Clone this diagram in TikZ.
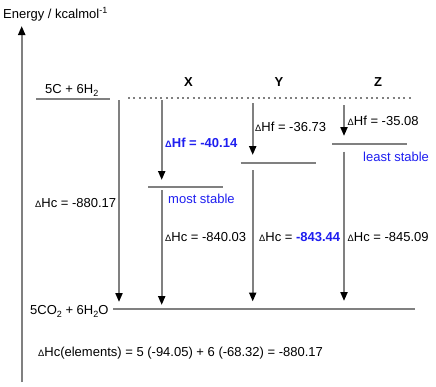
\documentclass[tikz,border=0pt]{standalone}
\usepackage{fontspec}
\setmainfont{Liberation Sans}
\usetikzlibrary{arrows.meta}
\definecolor{lg}{RGB}{128,128,128}
\definecolor{hb}{RGB}{30,30,240}
\newcommand\dlt{{\fontsize{9.3}{9.3}\selectfont Δ}}
\newcommand\sbs[1]{\raisebox{-3pt}{\fontsize{9}{9}\selectfont #1}}
\newcommand\sps[1]{\raisebox{4.5pt}{\fontsize{9}{9}\selectfont #1}}
\begin{document}
\begin{tikzpicture}[x=1pt,y=-1pt,
  txt/.style={anchor=base west,inner sep=0pt,font=\fontsize{13}{15}\selectfont},
  lbl/.style={anchor=base,inner sep=0pt,font=\fontsize{13}{15}\selectfont\bfseries},
  lvl/.style={draw=lg,line width=2pt},
  arr/.style={draw=lg,line width=2pt,-{Triangle[width=7pt,length=9pt,fill=black,color=black]}},
  dots/.style={draw=lg,line width=1.5pt,dash pattern=on 2pt off 3.4pt}]
\useasboundingbox (0,0) rectangle (436,386);
% axis
\coordinate (ax0) at (21.7,382);
\coordinate (ax1) at (21.7,26);
\draw[arr] (ax0) -- (ax1);
\node[txt] (elab) at (3,18) {Energy / kcalmol\sps{-1}};
% levels
\coordinate (e1) at (36,99);    \coordinate (e2) at (110,99);
\coordinate (d1) at (128,98);   \coordinate (d2) at (414,98);
\coordinate (x1) at (148,186.5); \coordinate (x2) at (223,186.5);
\coordinate (y1) at (240.5,162.5); \coordinate (y2) at (316,162.5);
\coordinate (z1) at (332,143.5); \coordinate (z2) at (407,143.5);
\coordinate (b1) at (113,308.5); \coordinate (b2) at (415,308.5);
\draw[lvl] (e1) -- (e2);
\draw[dots] (d1) -- (d2);
\draw[lvl] (x1) -- (x2);
\draw[lvl] (y1) -- (y2);
\draw[lvl] (z1) -- (z2);
\draw[lvl] (b1) -- (b2);
% arrows
\coordinate (la0) at (119,100);   \coordinate (la1) at (119,302);
\coordinate (xa0) at (161.7,100); \coordinate (xa1) at (161.7,180);
\coordinate (xb0) at (161.7,190); \coordinate (xb1) at (161.7,305);
\coordinate (ya0) at (252.7,103); \coordinate (ya1) at (252.7,155);
\coordinate (yb0) at (252.7,170); \coordinate (yb1) at (252.7,301.5);
\coordinate (za0) at (344,105);   \coordinate (za1) at (344,136);
\coordinate (zb0) at (344,151.5); \coordinate (zb1) at (344,301);
\draw[arr] (la0) -- (la1);
\draw[arr] (xa0) -- (xa1);
\draw[arr] (xb0) -- (xb1);
\draw[arr] (ya0) -- (ya1);
\draw[arr] (yb0) -- (yb1);
\draw[arr] (za0) -- (za1);
\draw[arr] (zb0) -- (zb1);
% labels
\node[txt] (top) at (45,93) {5C + 6H\sbs{2}};
\node[lbl] (X) at (188.5,86.5) {X};
\node[lbl] (Y) at (279,86.5) {Y};
\node[lbl] (Z) at (378,86.5) {Z};
\node[txt,text=hb,font=\fontsize{13}{15}\selectfont\bfseries] (hfx) at (165,147) {\dlt Hf = -40.14};
\node[txt] (hfy) at (255,131.5) {\dlt Hf = -36.73};
\node[txt] (hfz) at (347.5,125) {\dlt Hf = -35.08};
\node[txt,text=hb] (least) at (363,161.5) {least stable};
\node[txt,text=hb] (most) at (168,203) {most stable};
\node[txt] (hc0) at (35,207) {\dlt Hc = -880.17};
\node[txt] (hcx) at (165,241.5) {\dlt Hc = -840.03};
\node[txt] (hcy) at (259,241.5) {\dlt Hc = {\bfseries\color{hb}-843.44}};
\node[txt] (hcz) at (347.5,241.5) {\dlt Hc = -845.09};
\node[txt] (prod) at (30,314) {5CO\sbs{2} + 6H\sbs{2}O};
\node[txt] (form) at (38,356) {\dlt Hc(elements) = 5 (-94.05) + 6 (-68.32) = -880.17};
\end{tikzpicture}
\end{document}
